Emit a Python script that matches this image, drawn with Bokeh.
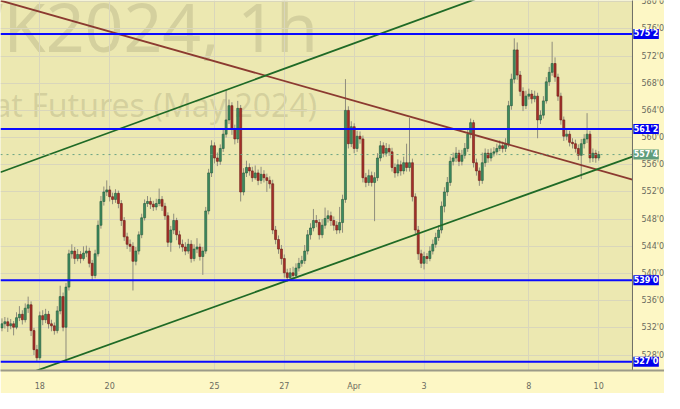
from bokeh.plotting import figure
from bokeh.models import FixedTicker, ColumnDataSource
from bokeh.core.properties import value
from bokeh.embed import file_html
from bokeh.resources import INLINE

# ---------------- data (hourly bars, ZW May 2024) ----------------
first_open = 532.0
close = [
    532.6, 532.9, 532.3, 532.6, 532.1, 533.5, 534.0, 533.2, 534.9, 535.4,
    531.6, 528.8, 527.6, 533.8, 533.2, 534.0, 532.6, 532.3, 531.6, 534.5,
    536.6, 532.1, 538.0, 542.9, 543.3, 542.2, 542.8, 542.2, 543.0, 543.3,
    541.5, 539.7, 542.9, 547.1, 550.6, 552.0, 552.3, 551.3, 550.9, 551.8,
    550.3, 547.8, 545.4, 544.3, 544.0, 541.8, 543.3, 545.7, 548.2, 550.3,
    550.6, 550.2, 549.8, 550.3, 550.9, 549.9, 548.5, 544.6, 546.4, 547.8,
    545.7, 544.3, 543.9, 543.3, 544.3, 542.2, 543.6, 543.9, 542.5, 543.3,
    549.2, 554.8, 558.8, 557.0, 556.5, 558.4, 560.5, 562.6, 564.7, 561.2,
    559.8, 564.3, 552.0, 554.8, 555.6, 555.1, 554.1, 554.8, 553.7, 554.6,
    554.1, 553.7, 553.2, 546.4, 545.0, 543.6, 542.2, 540.1, 539.4, 540.1,
    539.7, 540.8, 541.5, 541.9, 543.3, 545.7, 546.7, 547.8, 547.5, 545.7,
    547.1, 548.1, 548.5, 547.8, 547.1, 546.4, 547.5, 550.9, 564.0, 559.1,
    561.6, 558.4, 560.2, 559.8, 554.1, 553.4, 554.4, 553.4, 554.1, 557.0,
    558.8, 557.7, 558.4, 557.9, 555.6, 554.8, 556.0, 555.1, 556.3, 555.6,
    556.3, 551.3, 546.4, 542.9, 541.5, 542.5, 542.2, 543.3, 544.3, 545.3,
    546.4, 549.9, 552.0, 553.4, 556.5, 557.0, 557.7, 556.5, 557.4, 558.4,
    560.5, 562.2, 556.3, 555.1, 553.7, 556.3, 557.7, 557.0, 557.7, 557.9,
    558.4, 558.8, 558.4, 559.1, 564.7, 568.6, 572.9, 569.2, 566.8, 564.7,
    566.1, 566.4, 565.7, 566.1, 562.6, 563.3, 565.4, 568.2, 569.6, 570.9,
    568.9, 566.1, 562.6, 560.2, 560.5, 559.3, 559.1, 558.4, 557.4, 559.1,
    559.8, 560.5, 557.0, 557.7, 557.0, 557.5,
]
high = [
    533.4, 533.6, 533.5, 533.3, 533.0, 534.3, 535.2, 534.6, 535.6, 536.6,
    535.9, 532.0, 529.5, 534.4, 534.6, 534.8, 534.5, 533.2, 532.8, 535.2,
    538.2, 537.2, 538.6, 543.5, 544.3, 543.9, 543.6, 543.3, 544.0, 544.1,
    543.8, 542.0, 543.5, 547.8, 551.4, 552.8, 553.7, 552.9, 551.9, 552.4,
    552.2, 550.8, 548.3, 546.0, 545.0, 544.6, 543.9, 546.2, 548.8, 550.9,
    551.4, 551.2, 550.7, 551.0, 552.5, 551.4, 550.4, 549.0, 547.0, 548.8,
    548.2, 546.3, 545.0, 544.6, 545.1, 544.9, 544.3, 545.2, 544.4, 543.9,
    549.8, 555.4, 559.6, 559.3, 557.8, 559.0, 561.2, 567.0, 565.6, 565.2,
    561.9, 565.4, 564.8, 555.5, 556.6, 556.2, 555.7, 555.9, 555.3, 555.7,
    555.2, 554.7, 554.3, 553.8, 547.0, 545.6, 544.2, 542.8, 540.7, 540.8,
    541.0, 541.5, 542.3, 542.6, 544.2, 546.4, 547.4, 549.5, 548.6, 548.0,
    548.0, 549.7, 549.3, 549.1, 548.4, 547.7, 549.8, 551.6, 568.6, 564.6,
    562.4, 562.1, 561.0, 560.9, 560.3, 554.8, 555.3, 555.0, 554.9, 557.7,
    559.5, 559.3, 559.2, 559.0, 558.5, 556.2, 556.8, 556.6, 557.2, 559.1,
    562.9, 556.9, 551.8, 547.0, 543.5, 543.2, 543.0, 544.0, 545.0, 546.0,
    547.1, 550.6, 552.7, 554.2, 557.2, 557.8, 558.6, 558.2, 558.2, 559.2,
    561.2, 562.8, 562.6, 556.9, 555.6, 557.8, 558.4, 558.3, 558.4, 558.6,
    559.1, 559.6, 559.4, 559.9, 565.4, 569.4, 574.6, 574.0, 569.8, 567.4,
    566.9, 567.2, 567.0, 566.9, 566.6, 564.0, 566.1, 568.9, 570.4, 574.1,
    571.8, 569.4, 566.6, 563.1, 561.3, 561.0, 559.9, 559.7, 559.0, 559.8,
    560.5, 563.6, 561.0, 558.4, 558.2, 558.0,
]
low = [
    531.5, 531.9, 531.4, 531.8, 530.9, 531.8, 533.0, 532.5, 532.8, 534.2,
    530.8, 528.0, 527.0, 527.3, 532.4, 532.7, 531.9, 531.5, 531.0, 531.2,
    534.0, 531.5, 527.1, 537.5, 542.2, 541.4, 541.8, 541.5, 541.9, 542.4,
    540.9, 539.0, 539.3, 542.5, 546.6, 550.0, 551.4, 550.6, 550.2, 550.4,
    549.6, 547.0, 544.8, 543.6, 543.2, 537.5, 541.2, 542.8, 545.2, 547.8,
    549.8, 549.5, 549.2, 549.3, 549.9, 549.2, 547.9, 543.9, 543.2, 545.8,
    544.9, 543.7, 543.2, 542.7, 542.9, 541.6, 541.8, 543.0, 541.9, 539.8,
    542.9, 548.7, 554.2, 556.2, 555.8, 556.0, 557.9, 560.0, 562.0, 560.4,
    559.0, 559.2, 550.6, 551.5, 554.2, 554.4, 553.5, 553.8, 553.0, 553.2,
    553.4, 552.0, 552.5, 545.8, 544.3, 542.9, 541.3, 539.4, 538.8, 538.9,
    539.1, 539.3, 540.3, 541.0, 541.4, 542.8, 545.0, 546.2, 546.8, 545.0,
    545.2, 546.6, 547.5, 547.0, 546.3, 545.8, 545.9, 546.0, 550.4, 558.4,
    558.6, 557.7, 557.9, 559.1, 553.4, 552.7, 552.9, 552.8, 547.7, 553.6,
    556.5, 557.1, 557.2, 557.3, 555.0, 554.1, 554.3, 554.4, 554.6, 555.0,
    555.0, 550.6, 545.7, 542.0, 540.8, 540.6, 541.4, 541.8, 542.8, 543.8,
    544.8, 545.9, 549.0, 551.4, 552.9, 555.9, 556.4, 555.8, 555.9, 556.9,
    557.9, 559.9, 555.6, 554.4, 552.9, 553.2, 555.7, 556.3, 556.5, 557.2,
    557.4, 558.0, 557.8, 557.9, 558.6, 564.1, 568.0, 568.5, 566.1, 563.9,
    564.2, 565.6, 565.0, 565.2, 559.9, 562.0, 562.8, 565.0, 567.6, 569.1,
    568.2, 565.4, 561.9, 559.5, 559.6, 558.7, 558.4, 557.8, 556.7, 553.9,
    558.4, 559.2, 556.3, 556.4, 556.3, 556.6,
]
opens = [first_open] + close[:-1]

day_tick_bars = [13, 37, 73, 97, 121, 145, 181, 205]
day_tick_labels = ["18", "20", "25", "27", "Apr", "3", "8", "10"]
price_ticks = [528, 532, 536, 540, 544, 548, 552, 556, 560, 564, 568, 572, 576, 580]
price_tick_labels = [f"{t}'0" for t in price_ticks]

level_prices = [575.25, 561.25, 539.0, 527.0]
level_labels = ["575'2", "561'2", "539'0", "527'0"]
last_price = 557.5
last_label = "557'4"

# trend lines: (bar0, price0, bar1, price1)
resistance_line = (-0.5, 580.16, 216.6, 553.8)
channel_upper = (-0.5, 554.9, 216.6, 588.8)
channel_lower = (-0.5, 523.8, 216.6, 557.2)

watermark_1 = "ZWK2024, 1h"
watermark_2 = "Wheat Futures (May 2024)"

# ---------------- figure ----------------
X0, AX, X_END = -0.5, 216.6, 227.6     # AX = price-scale border
Y0, Y1 = 525.73, 580.17
BPX = (X_END - X0) / 664.0              # bars per screen pixel

p = figure(width=664, height=393, x_range=(X0, X_END), y_range=(Y0, Y1),
           output_backend="svg", toolbar_location=None,
           min_border_left=0, min_border_top=0, min_border_right=0, min_border_bottom=21,
           background_fill_color="#ece8b1", border_fill_color="#fdf7c5",
           outline_line_color=None)
p.yaxis.visible = False

# watermark
p.text(x=[108.6], y=[576.5], text=[watermark_1], text_align="right",
       text_baseline="alphabetic", text_font=value("Noto Sans"), text_font_size="68px",
       text_color="#7f7b5a", text_alpha=0.22, level="underlay")
p.text(x=[108.3], y=[564.9], text=[watermark_2], text_align="right", text_baseline="alphabetic",
       text_font=value("Noto Sans"), text_font_size="32px", text_color="#7f7b5a", text_alpha=0.22,
       level="underlay")

idx = list(range(len(close)))
up = [c >= o for o, c in zip(opens, close)]
src = ColumnDataSource(dict(
    x=idx, high=high, low=low,
    top=[max(o, c) for o, c in zip(opens, close)],
    bottom=[min(o, c) for o, c in zip(opens, close)],
    fill=["#3d8c60" if u else "#a8302a" for u in up],
    line=["#24583b" if u else "#6a1d18" for u in up],
))
p.segment(x0="x", y0="low", x1="x", y1="high", source=src, line_color="#8f8d7c", line_width=1)
p.vbar(x="x", top="top", bottom="bottom", width=0.7, source=src,
       fill_color="fill", line_color="line", line_width=0.6)

# trend lines
for (bx0, py0, bx1, py1), col in [(resistance_line, "#8b3a30"), (channel_upper, "#1f6a26"),
                                  (channel_lower, "#1f6a26")]:
    p.line([bx0, bx1], [py0, py1], line_color=col, line_width=1.8)

# last price dotted + horizontal levels
p.segment(x0=[X0], y0=[last_price], x1=[AX], y1=[last_price], line_color="#6aa384",
          line_dash="dotted", line_width=1)
p.segment(x0=[X0] * len(level_prices), y0=level_prices, x1=[AX] * len(level_prices),
          y1=level_prices, line_color="#0a0aff", line_width=2)

# grid + bottom axis
p.xaxis.ticker = FixedTicker(ticks=day_tick_bars)
p.xgrid.ticker = FixedTicker(ticks=day_tick_bars)
p.ygrid.ticker = FixedTicker(ticks=price_ticks)
p.xaxis.major_label_overrides = dict(zip(day_tick_bars, day_tick_labels))
p.xaxis.major_tick_line_color = None
p.xaxis.minor_tick_line_color = None
p.xaxis.major_label_text_font = "DejaVu Sans"
p.xaxis.major_label_text_font_size = "8px"
p.xaxis.major_label_text_color = "#6b6b60"
p.xaxis.axis_line_color = "#9c9a88"
p.xaxis.axis_line_width = 2
p.xaxis.major_label_standoff = 5
p.grid.grid_line_color = "#d9d6bb"
p.grid.grid_line_width = 1

# ---- hand-drawn price scale on the right ----
p.quad(left=[AX], right=[X_END + 1], bottom=[Y0 - 1], top=[Y1 + 1],
       fill_color="#fdf7c5", line_color=None)
p.segment(x0=[AX], y0=[Y0 - 1], x1=[AX], y1=[Y1 + 1], line_color="#6e6e66", line_width=1)
p.text(x=[AX + 9 * BPX] * len(price_ticks), y=price_ticks, text=price_tick_labels,
       text_align="left", text_baseline="middle", text_font=value("DejaVu Sans"),
       text_font_size="8px", text_color="#6b6b60")

box_x = AX + 13.6 * BPX
p.rect(x=[box_x] * len(level_prices), y=level_prices, width=25.5, height=10,
       width_units="screen", height_units="screen", fill_color="#0000ee", line_color=None)
p.text(x=[box_x] * len(level_prices), y=level_prices, text=level_labels, text_align="center",
       text_baseline="middle", text_font=value("DejaVu Sans"), text_font_size="8px",
       text_font_style="bold", text_color="white")
p.rect(x=[box_x], y=[last_price], width=25.5, height=10, width_units="screen",
       height_units="screen", fill_color="#5f9c7c", line_color=None)
p.text(x=[box_x], y=[last_price], text=[last_label], text_align="center",
       text_baseline="middle", text_font=value("DejaVu Sans"), text_font_size="8px",
       text_font_style="bold", text_color="white")

open("out.html", "w").write(file_html(p, INLINE))
